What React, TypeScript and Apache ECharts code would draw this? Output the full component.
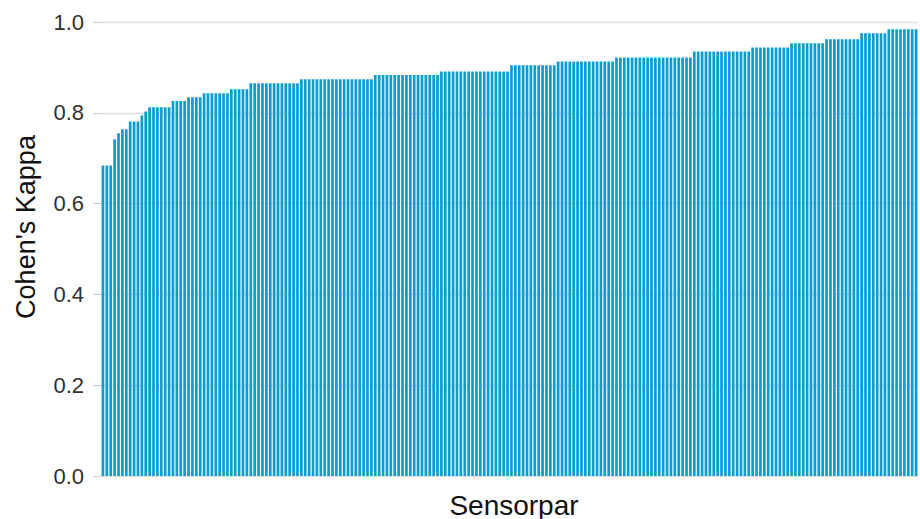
import React, { useEffect, useRef } from "react";
import * as echarts from "echarts";

// Plateau levels of Cohen's Kappa (sorted ascending) and how many sensor pairs sit on each
const kappaLevels = [
  0.684, 0.742, 0.755, 0.764, 0.781, 0.794, 0.803, 0.812, 0.826, 0.834, 0.843, 0.852, 0.865,
  0.874, 0.883, 0.891, 0.905, 0.913, 0.922, 0.935, 0.944, 0.953, 0.962, 0.975, 0.984,
];
const levelCounts = [
  3, 1, 1, 2, 3, 1, 1, 6, 4, 4, 7, 5, 13,
  19, 17, 18, 12, 15, 20, 15, 10, 9, 9, 7, 8,
];
const yTicks = [0, 0.2, 0.4, 0.6, 0.8, 1.0];
const xTitle = "Sensorpar";
const yTitle = "Cohen's Kappa";

const kappaValues: number[] = [];
kappaLevels.forEach((v, i) => {
  for (let k = 0; k < levelCounts[i]; k++) kappaValues.push(v);
});
const pairNames = kappaValues.map((_, i) => `Par ${i + 1}`);

export default function App() {
  const ref = useRef<HTMLDivElement>(null);
  useEffect(() => {
    if (!ref.current) return;
    const chart = echarts.init(ref.current, null, { renderer: "svg" });
    chart.setOption({
      animation: false,
      backgroundColor: "#ffffff",
      grid: { left: 101, right: 2, top: 22, bottom: 43, containLabel: false },
      xAxis: {
        type: "category",
        data: pairNames,
        axisLine: { show: false },
        axisTick: { show: false },
        axisLabel: { show: false },
        splitLine: { show: false },
      },
      yAxis: {
        type: "value",
        min: yTicks[0],
        max: yTicks[yTicks.length - 1],
        interval: 0.2,
        axisLine: { show: false },
        axisTick: { show: true, length: 8, lineStyle: { color: "#cfcfcf", width: 1 } },
        axisLabel: {
          margin: 17,
          fontSize: 22,
          fontFamily: "Liberation Sans, Arial, sans-serif",
          color: "#303030",
          formatter: (v: number) => v.toFixed(1),
        },
        splitLine: { show: true, lineStyle: { color: "#e0e0e0", width: 1.3 } },
      },
      series: [
        {
          type: "bar",
          data: kappaValues,
          barCategoryGap: "30%",
          itemStyle: { color: "#0a9dd0" },
        },
      ],
      graphic: [
        {
          type: "text",
          x: 514,
          y: 505,
          style: {
            text: xTitle,
            fontSize: 28,
            fontFamily: "Liberation Sans, Arial, sans-serif",
            fill: "#111111",
            textAlign: "center",
            textVerticalAlign: "middle",
          },
        },
        {
          type: "text",
          x: 26,
          y: 227,
          rotation: Math.PI / 2,
          style: {
            text: yTitle,
            fontSize: 27,
            fontFamily: "Liberation Sans, Arial, sans-serif",
            fill: "#111111",
            textAlign: "center",
            textVerticalAlign: "middle",
          },
        },
      ],
    });
    return () => chart.dispose();
  }, []);
  return (
    <div
      ref={ref}
      style={{ position: "fixed", left: 0, top: 0, width: 920, height: 519 }}
    />
  );
}
